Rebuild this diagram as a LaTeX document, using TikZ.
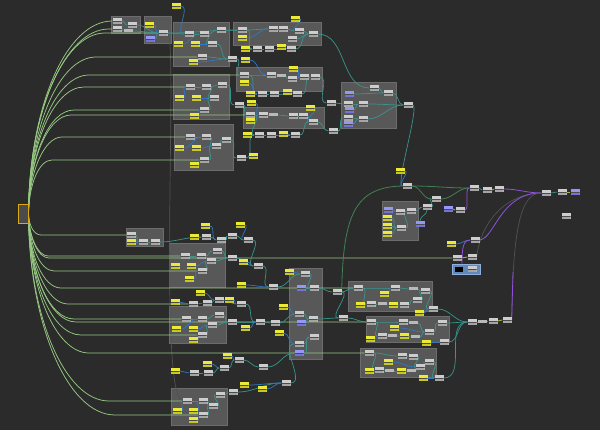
\documentclass[tikz,border=0pt]{standalone}
\usetikzlibrary{calc}
\definecolor{bgc}{RGB}{43,43,43}
\definecolor{fwc}{RGB}{150,200,130}
\definecolor{twc}{RGB}{55,150,140}
\definecolor{bwc}{RGB}{45,120,200}
\definecolor{ywc}{RGB}{165,190,40}
\definecolor{pwc}{RGB}{145,80,220}
\definecolor{dwc}{RGB}{82,82,82}
\definecolor{dgwc}{RGB}{65,130,85}
\definecolor{cg}{RGB}{205,205,205}
\definecolor{cgd}{RGB}{165,165,165}
\definecolor{cgs}{RGB}{185,185,185}
\definecolor{gapc}{RGB}{75,75,75}
\definecolor{yl}{RGB}{235,235,55}
\definecolor{yld}{RGB}{200,200,35}
\definecolor{pu}{RGB}{150,150,245}
\definecolor{pud}{RGB}{115,115,215}
\definecolor{grpc}{RGB}{88,88,88}
\definecolor{grpbc}{RGB}{108,108,108}
\definecolor{srcfill}{RGB}{75,75,75}
\definecolor{srcdraw}{RGB}{220,170,20}
\definecolor{bbfill}{RGB}{100,135,185}
\definecolor{bbdraw}{RGB}{140,175,220}
\pgfdeclarelayer{grpl}
\pgfdeclarelayer{wirel}
\pgfsetlayers{grpl,wirel,main}
\tikzset{
  barnode/.style n args={2}{rectangle, inner sep=0pt, minimum width=9pt, minimum height=6pt, fill=#1,
    path picture={\fill[#2] (path picture bounding box.west) rectangle (path picture bounding box.south east);
      \draw[gapc, line width=0.7pt] (path picture bounding box.west) -- (path picture bounding box.east);}},
  comp/.style={barnode={cg}{cgd}},
  ypar/.style={barnode={yl}{yld}},
  ppar/.style={barnode={pu}{pud}},
  sgl/.style={rectangle, inner sep=0pt, minimum width=9pt, minimum height=3pt, fill=cgs},
  grpbox/.style={rectangle, inner sep=0pt, anchor=north west, fill=grpc, draw=grpbc, line width=0.5pt},
  srcbox/.style={rectangle, inner sep=0pt, minimum width=10pt, minimum height=19pt, fill=srcfill, draw=srcdraw, line width=1pt},
  bluebox/.style={rectangle, inner sep=0pt, minimum width=28pt, minimum height=10pt, fill=bbfill, draw=bbdraw, line width=0.6pt},
  blk/.style={rectangle, inner sep=0pt, minimum width=8pt, minimum height=5pt, fill=black},
  fw/.style={draw=fwc, line width=0.75pt},
  tw/.style={draw=twc, line width=0.7pt, out=0, in=180},
  bw/.style={draw=bwc, line width=0.7pt, out=0, in=180},
  yw/.style={draw=ywc, line width=0.8pt, out=0, in=180},
  pw/.style={draw=pwc, line width=0.8pt, out=0, in=180},
  dw/.style={draw=dwc, line width=0.7pt, out=0, in=180},
  dgw/.style={draw=dgwc, line width=0.8pt, out=0, in=180},
}
\newcommand{\mkgrp}[5]{\node[grpbox, minimum width=#4pt, minimum height=#5pt] (#1) at (#2,#3) {};}
\newcommand{\lnk}[3]{\draw[#1] (#2.east) to (#3.west);}
\begin{document}
\begin{tikzpicture}[x=1pt,y=-1pt]
\useasboundingbox (0,0) rectangle (600,430);
\begin{pgfonlayer}{grpl}
\fill[bgc] (0,0) rectangle (600,430);
\mkgrp{G1}{111}{16}{29}{17}
\mkgrp{G2}{144}{16}{27}{27}
\mkgrp{G3}{173}{22}{56}{44}
\mkgrp{G4}{233}{22}{88}{23}
\mkgrp{G5}{236}{67}{86}{24}
\mkgrp{G6}{173}{74}{56}{45}
\mkgrp{G7}{243}{107}{81}{21}
\mkgrp{G8}{174}{124}{59}{46}
\mkgrp{G9}{341}{82}{55}{46}
\mkgrp{G10}{382}{201}{36}{39}
\mkgrp{G11}{126}{228}{37}{18}
\mkgrp{G12}{169}{243}{56}{44}
\mkgrp{G13}{169}{306}{57}{37}
\mkgrp{G14}{289}{268}{33}{91}
\mkgrp{G15}{348}{281}{84}{30}
\mkgrp{G16}{366}{316}{83}{26}
\mkgrp{G17}{360}{348}{76}{29}
\mkgrp{G18}{171}{388}{56}{37}
\end{pgfonlayer}
% source
\node[srcbox] (src) at (23,214) {};
% G1 G2
\node[comp] (a1) at (117,21) {};
\node[comp] (a2) at (117,29) {};
\node[comp] (a3) at (132,25) {};
\node[sgl] (a4) at (128,31) {};
\node[ypar] (b1) at (149,25) {};
\node[ppar] (b2) at (150,39) {};
\node[comp] (b3) at (163,33) {};
% G3
\node[ypar] (c0) at (176,6) {};
\node[comp] (c1) at (189,34) {};
\node[comp] (c2) at (204,34) {};
\node[comp] (c3) at (221,30) {};
\node[comp] (c4) at (212,44) {};
\node[ypar] (c5) at (178,44) {};
\node[ypar] (c6) at (195,44) {};
\node[comp] (c7) at (202,57) {};
\node[ypar] (c8) at (193,62) {};
\node[comp] (c9) at (232,59) {};
\node[ypar] (c10) at (245,60) {};
% G4
\node[comp] (d1) at (242,30) {};
\node[ypar] (d2) at (242,38) {};
\node[comp] (d3) at (273,29) {};
\node[comp] (d4) at (283,29) {};
\node[ypar] (d5) at (295,19) {};
\node[comp] (d6) at (299,31) {};
\node[comp] (d7) at (292,39) {};
\node[comp] (d8) at (313,34) {};
\node[ypar] (d9) at (245,49) {};
\node[comp] (d10) at (257,49) {};
\node[comp] (d11) at (269,49) {};
\node[ypar] (d12) at (281,47) {};
\node[comp] (d13) at (291,49) {};
% G5
\node[comp] (e1) at (244,75) {};
\node[ypar] (e2) at (244,83) {};
\node[comp] (e3) at (271,75) {};
\node[sgl] (e4) at (281,76) {};
\node[ypar] (e5) at (293,69) {};
\node[comp] (e6) at (292,79) {};
\node[comp] (e7) at (304,77) {};
\node[comp] (e8) at (315,77) {};
\node[ypar] (e9) at (250,94) {};
\node[comp] (e10) at (262,94) {};
\node[comp] (e11) at (274,94) {};
\node[ypar] (e12) at (287,92) {};
\node[comp] (e13) at (297,94) {};
% G6
\node[comp] (f1) at (190,87) {};
\node[comp] (f2) at (206,87) {};
\node[comp] (f3) at (222,85) {};
\node[comp] (f4) at (214,98) {};
\node[comp] (f5) at (204,110) {};
\node[ypar] (f6) at (179,98) {};
\node[ypar] (f7) at (196,98) {};
\node[ypar] (f8) at (194,116) {};
\node[comp] (f9) at (239,105) {};
\node[ypar] (f10) at (251,103) {};
% G7
\node[comp] (g1) at (250,115) {};
\node[ypar] (g2) at (250,121) {};
\node[comp] (g3) at (263,115) {};
\node[sgl] (g4) at (273,115) {};
\node[comp] (g5) at (293,116) {};
\node[comp] (g6) at (303,116) {};
\node[comp] (g7) at (313,122) {};
\node[ypar] (g8) at (310,108) {};
\node[ypar] (g9) at (247,135) {};
\node[comp] (g10) at (259,135) {};
\node[comp] (g11) at (271,135) {};
\node[ypar] (g12) at (283,134) {};
\node[comp] (g13) at (295,135) {};
% G8
\node[comp] (h1) at (190,137) {};
\node[comp] (h2) at (206,137) {};
\node[comp] (h3) at (216,146) {};
\node[comp] (h4) at (226,140) {};
\node[comp] (h5) at (204,160) {};
\node[ypar] (h6) at (179,148) {};
\node[ypar] (h7) at (196,148) {};
\node[ypar] (h8) at (194,165) {};
\node[comp] (h9) at (241,158) {};
\node[ypar] (h10) at (253,156) {};
% G9
\node[comp] (i0a) at (331,103) {};
\node[comp] (i0b) at (333,131) {};
\node[comp] (i1) at (374,88) {};
\node[comp] (i2) at (388,93) {};
\node[ppar] (i3) at (349,94) {};
\node[comp] (i4) at (348,104) {};
\node[ppar] (i5) at (349,110) {};
\node[comp] (i6) at (363,104) {};
\node[comp] (i7) at (348,118) {};
\node[ppar] (i8) at (348,124) {};
\node[comp] (i9) at (363,119) {};
\node[comp] (i10) at (408,105) {};
% G10 and right part
\node[ypar] (j00) at (400,171) {};
\node[comp] (j0) at (407,186) {};
\node[ppar] (l1) at (388,210) {};
\node[comp] (l2) at (400,212) {};
\node[comp] (l3) at (411,211) {};
\node[ypar] (l4) at (387,218) {};
\node[ypar] (l5) at (387,226) {};
\node[ypar] (l6) at (387,234) {};
\node[comp] (l7) at (401,228) {};
\node[ppar] (l8) at (420,224) {};
\node[comp] (k1) at (436,199) {};
\node[comp] (k2) at (427,207) {};
\node[comp] (r1) at (474,188) {};
\node[comp] (r2) at (487,190) {};
\node[comp] (r3) at (499,189) {};
\node[comp] (rc1) at (546,193) {};
\node[comp] (rc2) at (562,192) {};
\node[ppar] (rc3) at (575,192) {};
\node[ppar] (m1) at (448,209) {};
\node[comp] (m2) at (460,210) {};
\node[comp] (z1) at (566,216) {};
\node[ypar] (n1) at (451,244) {};
\node[comp] (n2) at (475,240) {};
\node[comp] (n3) at (457,258) {};
\node[comp] (n4) at (472,257) {};
\node[bluebox] (bb) at (466,269) {};
\node[blk] (bbk) at (459,270) {};
\node[comp] (bbc) at (472,269) {};
\node[comp] (s1) at (472,322) {};
\node[sgl] (s2) at (482,322) {};
\node[comp] (s3) at (493,321) {};
\node[comp] (s4) at (507,320) {};
% G11 G12
\node[comp] (t1) at (131,235) {};
\node[ypar] (t2) at (131,242) {};
\node[comp] (t3) at (143,242) {};
\node[comp] (t4) at (155,242) {};
\node[ypar] (u1) at (205,226) {};
\node[ypar] (u2) at (240,225) {};
\node[ypar] (u3) at (194,237) {};
\node[comp] (u4) at (206,237) {};
\node[comp] (u5) at (221,240) {};
\node[comp] (u6) at (232,236) {};
\node[comp] (u7) at (248,240) {};
\node[comp] (u8) at (185,256) {};
\node[comp] (u9) at (201,256) {};
\node[comp] (u10) at (217,251) {};
\node[comp] (u11) at (211,261) {};
\node[comp] (u12) at (202,271) {};
\node[ypar] (u13) at (175,266) {};
\node[ypar] (u14) at (191,266) {};
\node[ypar] (u15) at (189,279) {};
\node[comp] (u16) at (232,258) {};
\node[ypar] (u17) at (243,262) {};
\node[comp] (u18) at (258,266) {};
\node[ypar] (u19) at (241,285) {};
\node[comp] (u20) at (273,287) {};
\node[ypar] (u21) at (289,272) {};
% G14
\node[comp] (v1) at (305,274) {};
\node[ppar] (v2) at (301,288) {};
\node[comp] (v3) at (314,288) {};
\node[comp] (v4) at (299,314) {};
\node[ppar] (v5) at (301,323) {};
\node[comp] (v6) at (313,319) {};
\node[comp] (v7) at (314,337) {};
\node[comp] (v8) at (299,344) {};
\node[ppar] (v9) at (299,353) {};
\node[comp] (w0) at (337,292) {};
\node[comp] (w00) at (343,318) {};
% G13
\node[ypar] (o1) at (200,293) {};
\node[ypar] (o2) at (175,302) {};
\node[comp] (o3) at (193,304) {};
\node[comp] (o4) at (207,303) {};
\node[comp] (o5) at (219,300) {};
\node[ypar] (o6) at (229,300) {};
\node[comp] (o7) at (241,304) {};
\node[comp] (o8) at (186,319) {};
\node[comp] (o9) at (202,319) {};
\node[comp] (o10) at (219,315) {};
\node[comp] (o11) at (212,325) {};
\node[comp] (o12) at (202,335) {};
\node[ypar] (o13) at (176,329) {};
\node[ypar] (o14) at (193,329) {};
\node[ypar] (o15) at (193,340) {};
\node[comp] (o16) at (232,322) {};
\node[ypar] (o17) at (245,328) {};
\node[comp] (o18) at (260,322) {};
\node[comp] (o20) at (275,323) {};
\node[ypar] (o21) at (283,307) {};
\node[ypar] (o22) at (279,333) {};
% G15
\node[comp] (x1) at (358,288) {};
\node[comp] (x2) at (395,288) {};
\node[sgl] (x3) at (413,289) {};
\node[comp] (x4) at (425,291) {};
\node[comp] (x5) at (417,300) {};
\node[ypar] (x6) at (384,294) {};
\node[ypar] (x7) at (360,305) {};
\node[comp] (x8) at (371,304) {};
\node[sgl] (x9) at (382,304) {};
\node[ypar] (x10) at (393,305) {};
\node[comp] (x11) at (404,305) {};
\node[ypar] (x12) at (419,313) {};
\node[comp] (x13) at (433,309) {};
% G16
\node[comp] (y1) at (371,322) {};
\node[comp] (y2) at (403,322) {};
\node[sgl] (y3) at (413,323) {};
\node[comp] (y4) at (442,323) {};
\node[ypar] (y5) at (394,328) {};
\node[comp] (y6) at (429,332) {};
\node[comp] (y7) at (382,336) {};
\node[sgl] (y8) at (392,336) {};
\node[ypar] (y9) at (404,336) {};
\node[sgl] (y10) at (415,337) {};
\node[ypar] (y11) at (370,339) {};
\node[ypar] (y12) at (426,343) {};
\node[comp] (y13) at (444,342) {};
% G17
\node[comp] (q1) at (369,353) {};
\node[comp] (q2) at (402,356) {};
\node[comp] (q3) at (413,357) {};
\node[ypar] (q4) at (388,362) {};
\node[comp] (q5) at (429,362) {};
\node[comp] (q6) at (420,367) {};
\node[comp] (q7) at (379,370) {};
\node[sgl] (q8) at (389,371) {};
\node[ypar] (q9) at (401,371) {};
\node[sgl] (q10) at (411,371) {};
\node[ypar] (q11) at (369,371) {};
\node[ypar] (q12) at (423,378) {};
\node[comp] (q13) at (439,378) {};
% G18
\node[ypar] (p1) at (227,356) {};
\node[comp] (p2) at (239,360) {};
\node[ypar] (p3) at (207,364) {};
\node[comp] (p4) at (224,368) {};
\node[ypar] (p5) at (175,371) {};
\node[comp] (p6) at (194,373) {};
\node[comp] (p7) at (208,373) {};
\node[comp] (p8) at (263,367) {};
\node[ypar] (p9) at (262,389) {};
\node[comp] (p10) at (286,383) {};
\node[ypar] (p11) at (244,385) {};
\node[comp] (p12) at (233,392) {};
\node[comp] (p13) at (187,401) {};
\node[comp] (p14) at (203,401) {};
\node[comp] (p15) at (213,406) {};
\node[comp] (p16) at (220,395) {};
\node[comp] (p17) at (203,415) {};
\node[ypar] (p18) at (177,411) {};
\node[ypar] (p19) at (193,411) {};
\node[ypar] (p20) at (193,420) {};
\coordinate (pv) at (513,272);

\begin{pgfonlayer}{wirel}
% faint long wire
\draw[dw] (b3.east) .. controls (178,40) and (158,395) .. (p13.west);
% fan from the source
\draw[fw] (src.east) .. controls (29,108) and (66,21) .. (a1.west);
\draw[fw] (src.east) .. controls (29,112) and (65,29) .. (109,29) -- (a2.west);
\draw[fw] (src.east) .. controls (29,114) and (63,33) .. (105,33) -- (b3.west);
\draw[fw] (src.east) .. controls (29,128) and (59,57) .. (96,57) -- (c7.west);
\draw[fw] (src.east) .. controls (29,138) and (56,75) .. (89,75) -- (e1.west);
\draw[fw] (src.east) .. controls (29,144) and (54,87) .. (84,87) -- (f1.west);
\draw[fw] (src.east) .. controls (29,157) and (49,110) .. (74,110) -- (f5.west);
\draw[fw] (src.east) .. controls (29,160) and (48,115) .. (71,115) -- (g1.west);
\draw[fw] (src.east) .. controls (29,172) and (44,137) .. (62,137) -- (h1.west);
\draw[fw] (src.east) .. controls (29,184) and (39,160) .. (52,160) -- (h5.west);
\draw[fw] (src.east) .. controls (29,226) and (34,235) .. (41,235) -- (t1.west);
\draw[fw] (src.east) .. controls (29,237) and (38,256) .. (48,256) -- (u8.west);
\draw[fw] (src.east) .. controls (29,238) and (38,258) .. (49,258) -- (n3.west);
\draw[fw] (src.east) .. controls (29,245) and (40,271) .. (54,271) -- (u12.west);
\draw[fw] (src.east) .. controls (29,255) and (43,288) .. (61,288) -- (x1.west);
\draw[fw] (src.east) .. controls (29,264) and (47,304) .. (68,304) -- (o3.west);
\draw[fw] (src.east) .. controls (29,272) and (49,319) .. (74,319) -- (o8.west);
\draw[fw] (src.east) .. controls (29,273) and (50,322) .. (76,322) -- (y1.west);
\draw[fw] (src.east) .. controls (29,281) and (52,335) .. (81,335) -- (o12.west);
\draw[fw] (src.east) .. controls (29,290) and (56,353) .. (89,353) -- (q1.west);
\draw[fw] (src.east) .. controls (29,317) and (65,401) .. (109,401) -- (p13.west);
\draw[fw] (src.east) .. controls (29,325) and (68,415) .. (115,415) -- (p17.west);
% G1 G2 G3 G4
\lnk{tw}{a1}{a3} \lnk{tw}{a2}{a4} \lnk{tw}{a3}{b3} \lnk{tw}{a4}{b3}
\lnk{bw}{b1}{b3} \lnk{tw}{b2}{b3} \lnk{tw}{b3}{c1} \lnk{tw}{b3}{d1}
\lnk{bw}{c0}{c1} \lnk{bw}{c5}{c2} \lnk{bw}{c6}{c4} \lnk{tw}{c1}{c2}
\lnk{tw}{c2}{c3} \lnk{tw}{c2}{c4} \lnk{tw}{c3}{d1} \lnk{tw}{c7}{c9}
\lnk{bw}{c8}{c9} \lnk{tw}{c4}{c9} \lnk{tw}{c9}{e1} \lnk{bw}{c10}{e3}
\lnk{tw}{d1}{d3} \lnk{bw}{d2}{d3} \lnk{tw}{d3}{d4} \lnk{tw}{d4}{d6}
\lnk{bw}{d5}{d6} \lnk{tw}{d6}{d8} \lnk{tw}{d7}{d8} \lnk{tw}{d1}{d10}
\lnk{bw}{d9}{d10} \lnk{tw}{d10}{d11} \lnk{tw}{d11}{d13} \lnk{bw}{d12}{d13}
\lnk{tw}{d13}{d8} \lnk{tw}{d8}{i1}
% G5
\lnk{tw}{e1}{e3} \lnk{tw}{e3}{e4} \lnk{tw}{e4}{e6} \lnk{bw}{e5}{e7}
\lnk{tw}{e6}{e7} \lnk{tw}{e7}{e8} \lnk{tw}{e1}{e10} \lnk{bw}{e9}{e10}
\lnk{tw}{e10}{e11} \lnk{tw}{e11}{e13} \lnk{bw}{e12}{e13} \lnk{tw}{e13}{e8}
\lnk{tw}{e8}{i0a} \lnk{bw}{e2}{e10}
% G6
\lnk{tw}{f1}{f2} \lnk{bw}{f6}{f1} \lnk{bw}{f7}{f4} \lnk{tw}{f2}{f3}
\lnk{tw}{f2}{f4} \lnk{tw}{f3}{f9} \lnk{tw}{f5}{f4} \lnk{bw}{f8}{f5}
\lnk{tw}{f9}{g1} \lnk{bw}{f10}{g3}
% G7
\lnk{tw}{g1}{g3} \lnk{bw}{g2}{g3} \lnk{tw}{g3}{g4} \lnk{tw}{g4}{g5}
\lnk{tw}{g5}{g6} \lnk{tw}{g6}{g7} \lnk{bw}{g8}{g7} \lnk{tw}{g1}{g10}
\lnk{bw}{g9}{g10} \lnk{tw}{g10}{g11} \lnk{tw}{g11}{g13} \lnk{bw}{g12}{g13}
\lnk{tw}{g13}{g7} \lnk{tw}{g7}{i0b}
% G8
\lnk{tw}{h1}{h2} \lnk{bw}{h6}{h2} \lnk{bw}{h7}{h3} \lnk{tw}{h2}{h3}
\lnk{tw}{h3}{h4} \lnk{tw}{h4}{h9} \lnk{tw}{h5}{h3} \lnk{bw}{h8}{h5}
\lnk{tw}{h9}{g10}
% G9
\lnk{tw}{i1}{i2} \lnk{tw}{i3}{i2} \lnk{tw}{i0a}{i4} \lnk{tw}{i4}{i6}
\lnk{tw}{i5}{i6} \lnk{tw}{i6}{i10} \lnk{tw}{i2}{i10} \lnk{tw}{i0b}{i7}
\lnk{tw}{i8}{i9} \lnk{tw}{i7}{i9} \lnk{tw}{i9}{i10}
\draw[tw] (i10.east) .. controls (420,105) and (395,186) .. (j0.west);
\lnk{bw}{j00}{j0}
% right part
\lnk{dgw}{j0}{r1} \lnk{dgw}{j0}{k1} \lnk{tw}{k2}{k1} \lnk{tw}{l3}{k2}
\draw[tw] (l8.north) to[out=90,in=-90] (k2.south);
\lnk{tw}{l1}{l2} \lnk{tw}{l2}{l3} \lnk{tw}{l4}{l7} \lnk{tw}{l5}{l7}
\lnk{tw}{l6}{l7} \lnk{tw}{l7}{l3} \lnk{dgw}{k1}{r1}
\lnk{yw}{m1}{m2}
\draw[pw] (m2.east) .. controls (470,210) and (464,188) .. (r1.west);
\lnk{tw}{r1}{r2} \lnk{yw}{r2}{r3} \lnk{pw}{r3}{rc1}
\lnk{tw}{rc1}{rc2} \lnk{yw}{rc2}{rc3}
\draw[dgw] (w0.east) .. controls (343,215) and (355,187) .. (j0.west);
\draw[bw] (n1.east) to[out=0,in=180] (n2.west);
\lnk{yw}{n3}{n4}
\draw[dw] (n4.east) .. controls (481,220) and (508,193) .. (rc1.west);
\draw[pw] (n2.east) .. controls (495,238) and (500,193) .. (rc1.west);
\draw[pw] ([xshift=-4pt]bb.north) .. controls (462,245) and (464,240) .. (n2.west);
\draw[dw] (s4.east) .. controls (513,230) and (520,193) .. (rc1.west);
\draw[pw] (s4.east) -- (pv);
\lnk{tw}{s1}{s2} \lnk{tw}{s2}{s3} \lnk{yw}{s3}{s4}
% G15 G16 G17
\lnk{tw}{x1}{x2} \lnk{bw}{x6}{x2} \lnk{tw}{x2}{x3} \lnk{tw}{x3}{x4}
\lnk{tw}{x1}{x8} \lnk{bw}{x7}{x8} \lnk{tw}{x8}{x9} \lnk{tw}{x9}{x11}
\lnk{bw}{x10}{x11} \lnk{tw}{x11}{x5} \lnk{tw}{x5}{x4} \lnk{tw}{x4}{x13}
\lnk{bw}{x12}{x13} \lnk{tw}{x13}{s1}
\lnk{tw}{y1}{y2} \lnk{bw}{y5}{y6} \lnk{tw}{y2}{y3} \lnk{tw}{y3}{y6}
\lnk{tw}{y6}{y4} \lnk{tw}{y1}{y7} \lnk{bw}{y11}{y7} \lnk{tw}{y7}{y8}
\lnk{tw}{y8}{y10} \lnk{bw}{y9}{y10} \lnk{tw}{y10}{y6} \lnk{bw}{y12}{y13}
\lnk{tw}{y4}{s1} \lnk{tw}{y13}{s1}
\lnk{tw}{q1}{q2} \lnk{bw}{q4}{q6} \lnk{tw}{q2}{q3} \lnk{tw}{q3}{q6}
\lnk{tw}{q6}{q5} \lnk{tw}{q1}{q7} \lnk{bw}{q11}{q7} \lnk{tw}{q7}{q8}
\lnk{tw}{q8}{q10} \lnk{bw}{q9}{q10} \lnk{tw}{q10}{q6} \lnk{bw}{q12}{q13}
\lnk{tw}{q5}{q13} \lnk{tw}{q13}{s1}
% G14 links
\lnk{tw}{u20}{v1} \lnk{bw}{u21}{v1} \lnk{tw}{v1}{v3} \lnk{tw}{v2}{v3}
\lnk{tw}{v3}{w0} \lnk{tw}{w0}{x1} \lnk{tw}{w0}{w00} \lnk{tw}{v4}{v6}
\lnk{tw}{v5}{v6} \lnk{tw}{v6}{w00} \lnk{tw}{w00}{y1} \lnk{tw}{v8}{v7}
\lnk{tw}{v9}{v7}
% G11 G12
\lnk{tw}{t1}{t3} \lnk{bw}{t2}{t3} \lnk{tw}{t3}{t4} \lnk{tw}{t4}{u4}
\lnk{bw}{u3}{u4} \lnk{tw}{u4}{u5} \lnk{bw}{u1}{u5} \lnk{tw}{u5}{u6}
\lnk{tw}{u6}{u7} \lnk{bw}{u2}{u7} \lnk{tw}{u7}{u18} \lnk{tw}{u8}{u9}
\lnk{bw}{u14}{u11} \lnk{tw}{u9}{u10} \lnk{tw}{u10}{u16} \lnk{tw}{u11}{u16}
\lnk{tw}{u12}{u11} \lnk{bw}{u15}{u12} \lnk{tw}{u16}{u18} \lnk{bw}{u17}{u18}
\lnk{tw}{u18}{u20} \lnk{bw}{u19}{u20}
% G13
\lnk{bw}{o2}{o3} \lnk{tw}{o3}{o4} \lnk{tw}{o4}{o5} \lnk{bw}{o1}{o5}
\lnk{tw}{o5}{o7} \lnk{bw}{o6}{o7} \lnk{tw}{o7}{o18} \lnk{tw}{o8}{o9}
\lnk{bw}{o14}{o11} \lnk{tw}{o9}{o10} \lnk{tw}{o10}{o16} \lnk{tw}{o11}{o16}
\lnk{tw}{o12}{o11} \lnk{bw}{o15}{o12} \lnk{bw}{o13}{o9} \lnk{tw}{o16}{o18}
\lnk{bw}{o17}{o18} \lnk{tw}{o18}{o20} \lnk{tw}{o20}{v4} \lnk{bw}{o21}{v4}
\lnk{bw}{o22}{v8}
% G18
\lnk{bw}{p5}{p6} \lnk{tw}{p6}{p7} \lnk{tw}{p7}{p4} \lnk{bw}{p3}{p4}
\lnk{tw}{p4}{p2} \lnk{bw}{p1}{p2} \lnk{tw}{p2}{p8} \lnk{tw}{p8}{v9}
\lnk{tw}{p13}{p14} \lnk{bw}{p18}{p13} \lnk{bw}{p19}{p14} \lnk{tw}{p14}{p15}
\lnk{tw}{p15}{p16} \lnk{tw}{p17}{p15} \lnk{bw}{p20}{p17} \lnk{tw}{p16}{p12}
\lnk{tw}{p12}{p10} \lnk{bw}{p11}{p10} \lnk{bw}{p9}{p10} \lnk{tw}{p10}{v8}
\end{pgfonlayer}
\end{tikzpicture}
\end{document}
